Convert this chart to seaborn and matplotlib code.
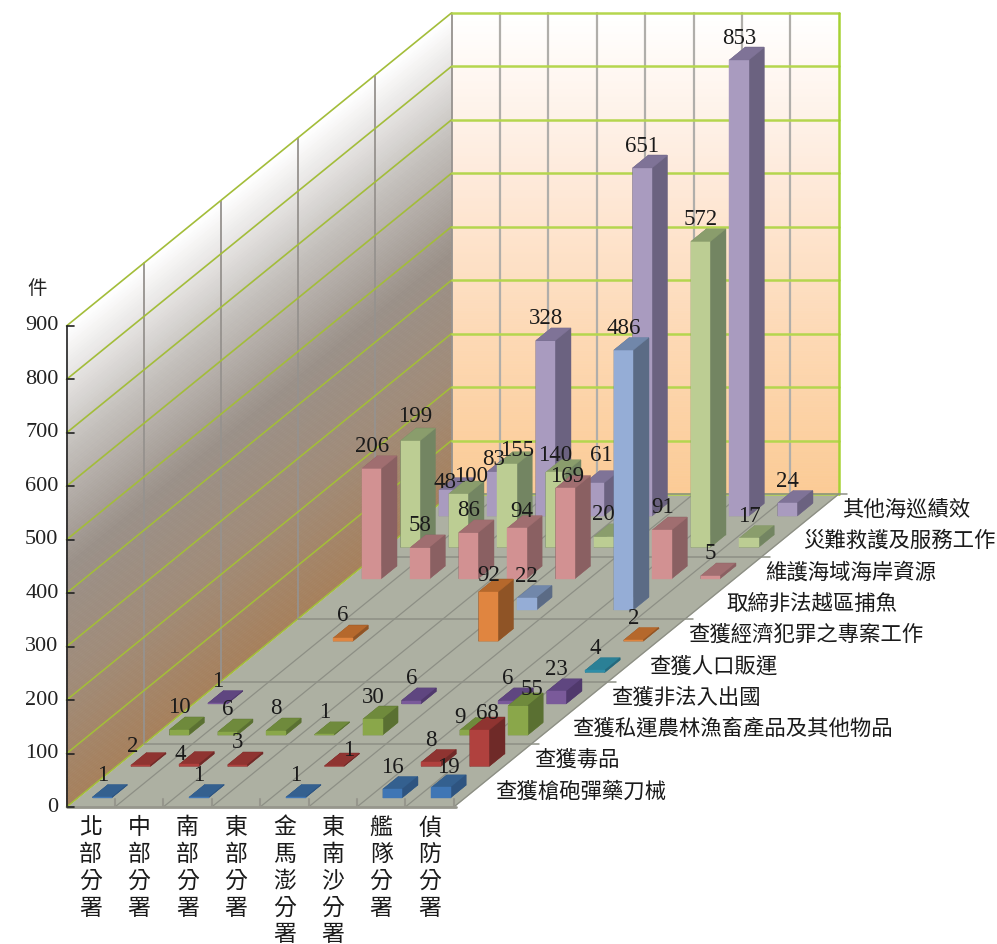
import numpy as np
import matplotlib
matplotlib.use("Agg")
import matplotlib.pyplot as plt
import seaborn as sns
from mpl_toolkits.mplot3d import proj3d
from mpl_toolkits.mplot3d.art3d import Poly3DCollection

N = None
units = ['北部分署', '中部分署', '南部分署', '東部分署', '金馬澎分署', '東南沙分署', '艦隊分署', '偵防分署']
series = ['查獲槍砲彈藥刀械', '查獲毒品', '查獲私運農林漁畜產品及其他物品', '查獲非法入出國', '查獲人口販運',
          '查獲經濟犯罪之專案工作', '取締非法越區捕魚', '維護海域海岸資源', '災難救護及服務工作', '其他海巡績效']

guns = [1, N, 1, N, 1, N, 16, 19]
drugs = [2, 4, 3, N, 1, N, 8, 68]
smuggling = [10, 6, 8, 1, 30, N, 9, 55]
immigration = [1, N, N, N, 6, N, 6, 23]
trafficking = [N, N, N, N, N, N, N, 4]
economic = [N, 6, N, N, 92, N, N, 2]
fishing = [N, N, N, N, 22, N, 486, N]
resources = [206, 58, 86, 94, 169, N, 91, 5]
rescue = [199, 100, 155, 140, 20, N, 572, 17]
other = [48, 83, 328, 61, 651, N, 853, 24]
values = [guns, drugs, smuggling, immigration, trafficking, economic, fishing, resources, rescue, other]

# front, top, side of every series
front = ['#3f76b5', '#b0413e', '#8aa74a', '#7a5a9a', '#2f8ea8', '#e08540', '#95add6', '#d29192', '#bccd93', '#a99bbf']
top = ['#34608f', '#8f3431', '#6f8a3c', '#5f4680', '#2b8096', '#b5682c', '#7187aa', '#a06e70', '#8a9d6c', '#7f7397']
side = ['#2e5480', '#6f2a28', '#5a7032', '#50396c', '#25687c', '#8f5426', '#5b6b85', '#8a6062', '#738562', '#6b6280']

ticks = list(range(0, 1000, 100))
floor_line = '#8d8f85'

# hand moved data labels in the original, (series, unit): pixels right, pixels down
moved = {(9, 0): (-4, 14), (8, 1): (12, 5), (9, 1): (-4, 10), (8, 2): (10, 8), (8, 3): (0, 5), (7, 4): (2, 10),
         (9, 3): (7, -6), (7, 3): (5, 5), (8, 0): (5, -2), (5, 4): (0, 5), (2, 7): (14, 6), (2, 6): (-10, 9),
         (1, 7): (8, 5), (0, 7): (7, 2), (1, 0): (-8, 3), (1, 1): (-9, 12), (1, 4): (14, 7)}

sns.set_theme(style='white')
plt.rcParams['font.family'] = ['Liberation Serif', 'Noto Sans CJK TC']
cjk = ['Noto Sans CJK TC']

W, H = 997, 944
CX, CY, DX, DY, ZS = 48.4, 0, 38.5, 31.3, 0.5345
fig = plt.figure(figsize=(W / 100, H / 100), dpi=100)
ax = fig.add_axes([0, (H - W) / H, 1, W / H], projection='3d')
ax.set_axis_off()
ax.set_proj_type('ortho')
ax.computed_zorder = False


# the chart is an oblique view, so the camera is swapped for a plain shear
def oblique_proj():
    x0, x1 = ax.viewLim.intervalx
    y0, y1 = ax.viewLim.intervaly
    sx = (x1 - x0) / W
    sy = (y1 - y0) / W
    return np.array([
        [CX * sx, DX * sx, 0, x0 + 66.5 * sx],
        [0, DY * sy, ZS * sy, y1 - 807 * sy],
        [-0.003, 0.01, -0.00002, 0],
        [0, 0, 0, 1],
    ])


ax.get_proj = oblique_proj


def label(x, y, z, s, **kw):
    px, py, _ = proj3d.proj_transform(x, y, z, oblique_proj())
    kw.setdefault('color', '#1a1a1a')
    return ax.text2D(px, py, s, transform=ax.transData, zorder=200, **kw)


nx, ny, zmax = len(units), len(series), ticks[-1]

# walls with their gradient
levels = np.linspace(0, zmax, 181)
back_cols = sns.blend_palette(['#fbcb95', '#fdd9b5', '#feeadb', '#ffffff'], n_colors=180)
left_cols = sns.blend_palette(['#a6805c', '#a08b78', '#9a9088', '#c4c0bc', '#ffffff'], n_colors=180)
back = [[(0, ny, a), (nx, ny, a), (nx, ny, b), (0, ny, b)] for a, b in zip(levels[:-1], levels[1:])]
left = [[(0, 0, a), (0, ny, a), (0, ny, b), (0, 0, b)] for a, b in zip(levels[:-1], levels[1:])]
ax.add_collection3d(Poly3DCollection(back, facecolors=back_cols, linewidths=0.5, edgecolors=back_cols, zorder=0))
ax.add_collection3d(Poly3DCollection(left, facecolors=left_cols, linewidths=0.5, edgecolors=left_cols, zorder=0))
ax.add_collection3d(Poly3DCollection([[(0, 0, 0), (nx, 0, 0), (nx, ny, 0), (0, ny, 0)]],
                                     facecolors='#adb0a2', linewidths=0, zorder=1))

# wall grid
for c in range(1, nx):
    ax.plot([c, c], [ny, ny], [0, zmax], color='#b0aeaa', lw=1.6, zorder=2)
for d in range(2, ny + 1, 2):
    ax.plot([0, 0], [d, d], [0, zmax], color='#96928e', lw=1.3, zorder=2)
for z in ticks:
    ax.plot([0, 0], [0, ny], [z, z], color='#a3bd3a', lw=1.2, zorder=3)
    ax.plot([0, nx], [ny, ny], [z, z], color='#b5d64e', lw=1.8, zorder=3)
ax.plot([nx, nx], [ny, ny], [0, zmax], color='#a6d234', lw=1.8, zorder=3)
ax.plot([0, 0], [0, 0], [0, zmax], color='#222222', lw=1.2, zorder=4)

# floor grid
for c in range(1, nx + 1):
    ax.plot([c, c], [0, ny], [0, 0], color=floor_line, lw=0.9, zorder=3)
    ax.plot([c, c], [0, 0], [0, 15], color='#96968c', lw=1.5, zorder=3)
for d in range(2, ny + 1, 2):
    ax.plot([0, nx + 0.18], [d, d], [0, 0], color=floor_line, lw=1.1, zorder=3)
ax.plot([0, nx + 0.05], [0, 0], [0, 0], color='#96968c', lw=2, zorder=4)

# y axis ticks
for z in ticks:
    ax.plot([0, 0.15], [0, 0], [z, z], color='#222222', lw=1.2, zorder=4)
    label(-0.165, 0, z, str(z), ha='right', va='center', fontsize=16, color='#222222')
fig.text(37 / W, 1 - 288 / H, '件', ha='center', va='center', fontsize=14, family=cjk, color='#222222')

# bars, back row first and left to right
order = 10
for d in range(ny - 1, -1, -1):
    for c, v in enumerate(values[d]):
        if v is None:
            continue
        cols = [top[d], top[d], front[d], side[d], side[d], side[d]]
        bar = ax.bar3d(c + 0.3, d + 0.3, 0, 0.4, 0.4, v, color=cols, shade=False, linewidth=0.3, edgecolor=cols)
        bar.set_zorder(order)
        order += 1
        mx, my = moved.get((d, c), (0, 0))
        label(c + 0.5 + mx / CX, d + 0.3, v + 41 - my / ZS, str(v), ha='center', va='center', fontsize=16.5)

# unit labels stand upright, one character under the other
for c, name in enumerate(units):
    for i, ch in enumerate(name):
        label(c + 0.5, 0, -39 - i * 50, ch, ha='center', va='center', fontsize=16.5, family=cjk)

for d, name in enumerate(series):
    label(nx + 0.46, d + 0.5, 0, name, ha='left', va='center', fontsize=15.4, family=cjk)

fig.savefig('out.png', dpi=100)
